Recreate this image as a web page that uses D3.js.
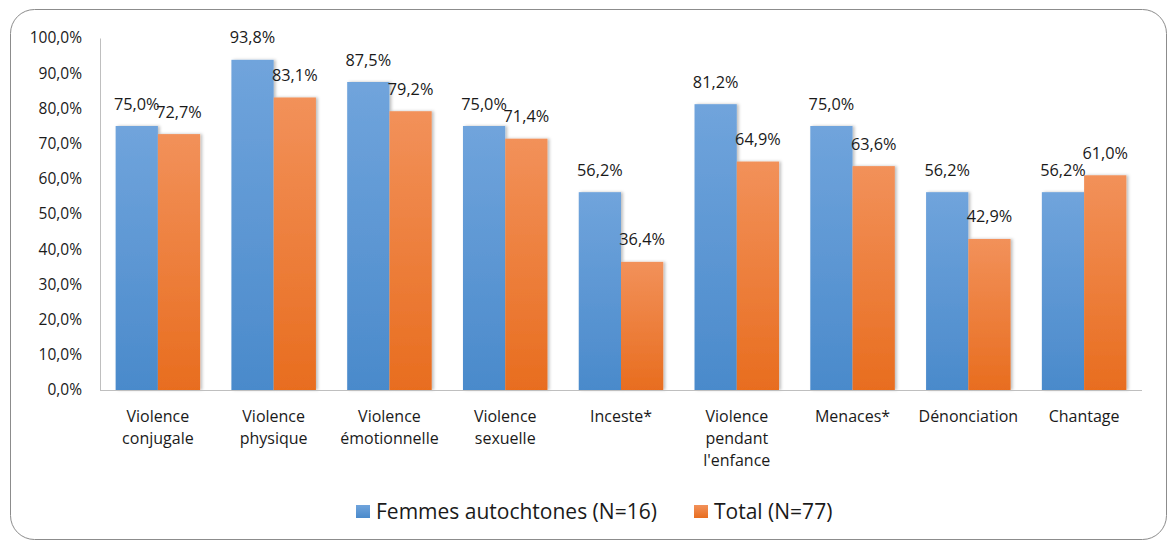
<!DOCTYPE html>
<html><head><meta charset="utf-8">
<script src="https://cdn.jsdelivr.net/npm/d3@7"></script>
<style>body{margin:0;background:#fff}svg{display:block}text{font-family:"Open Sans",sans-serif;fill:#1a1a1a}</style>
</head><body><svg id="c" width="1168" height="542"></svg>
<script>
const categories = [["Violence","conjugale"],["Violence","physique"],["Violence","émotionnelle"],["Violence","sexuelle"],["Inceste*"],["Violence","pendant","l'enfance"],["Menaces*"],["Dénonciation"],["Chantage"]];
const seriesNames = ["Femmes autochtones (N=16)","Total (N=77)"];
const femmes = [75.0,93.8,87.5,75.0,56.2,81.2,75.0,56.2,56.2];
const total = [72.7,83.1,79.2,71.4,36.4,64.9,63.6,42.9,61.0];
const yTicks = [0,10,20,30,40,50,60,70,80,90,100];

const svg = d3.select("#c");
const defs = svg.append("defs");
const grads = [["gB","#70a4dc","#4a8acb"],["gO","#f2915a","#e86d1f"]];
grads.forEach(([id,a,b])=>{
  const g=defs.append("linearGradient").attr("id",id).attr("x1",0).attr("y1",0).attr("x2",0).attr("y2",1);
  g.append("stop").attr("offset","0%").attr("stop-color",a);
  g.append("stop").attr("offset","100%").attr("stop-color",b);
});
const f=defs.append("filter").attr("id","sh").attr("x","-20%").attr("y","-5%").attr("width","150%").attr("height","110%");
f.append("feDropShadow").attr("dx",2).attr("dy",0).attr("stdDeviation",1.5).attr("flood-color","#000").attr("flood-opacity",0.25);

svg.append("rect").attr("x",10.5).attr("y",9.5).attr("width",1156).attr("height",530).attr("rx",24)
  .attr("fill","#fff").attr("stroke","#8c8c8c").attr("stroke-width",1);

const x0 = d3.scaleBand().domain(d3.range(categories.length)).range([100,1142]).paddingInner(0.27).paddingOuter(0.135);
const x1 = d3.scaleBand().domain([0,1]).range([0,x0.bandwidth()]);
const y = d3.scaleLinear().domain([0,100]).range([390,38]);

const series=[femmes,total];
const fills=["url(#gB)","url(#gO)"];
series.forEach((s,si)=>{
  svg.append("g").selectAll("rect").data(s).join("rect")
    .attr("x",(d,i)=>x0(i)+x1(si)).attr("width",x1.bandwidth())
    .attr("y",d=>y(d)).attr("height",d=>y(0)-y(d))
    .attr("fill",fills[si]).attr("filter","url(#sh)");
});
series.forEach((s,si)=>{
  svg.append("g").selectAll("text").data(s).join("text")
    .attr("x",(d,i)=>x0(i)+x1(si)+x1.bandwidth()/2).attr("y",d=>y(d)-16.5)
    .attr("text-anchor","middle").style("font-size","16.3px")
    .text(d=>d.toFixed(1).replace(".",",")+"%");
});

// axes
const ya = svg.append("g").attr("transform","translate(100,0)")
  .call(d3.axisLeft(y).tickValues(yTicks).tickSize(0).tickPadding(18).tickFormat(d=>d.toFixed(1).replace(".",",")+"%"));
ya.select(".domain").attr("stroke","#bfbfbf");
ya.selectAll("text").style("font-size","15.5px").style("font-family","'Open Sans',sans-serif").attr("fill","#1a1a1a");
svg.append("line").attr("x1",100).attr("x2",1142).attr("y1",390.5).attr("y2",390.5).attr("stroke","#bfbfbf");

const xl = svg.append("g").selectAll("text").data(categories).join("text")
  .attr("x",(d,i)=>x0(i)+x0.bandwidth()/2).attr("y",422).attr("text-anchor","middle").style("font-size","16px");
xl.each(function(d){
  d3.select(this).selectAll("tspan").data(d).join("tspan")
    .attr("x",d3.select(this).attr("x")).attr("dy",(t,j)=>j===0?0:22.2).text(t=>t);
});

// legend
const lg=[[356,"url(#gB)",376],[694,"url(#gO)",714]];
lg.forEach(([sx,fl,tx],i)=>{
  svg.append("rect").attr("x",sx).attr("y",505).attr("width",14).attr("height",13).attr("fill",fl);
  svg.append("text").attr("x",tx).attr("y",518.5).style("font-size","21px").text(seriesNames[i]);
});
</script></body></html>
